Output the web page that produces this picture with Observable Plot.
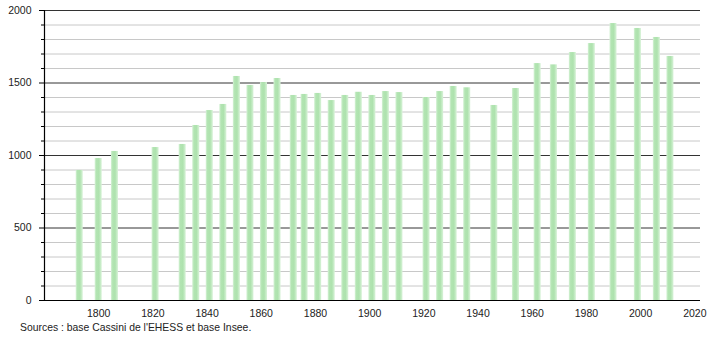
<!DOCTYPE html>
<html>
<head>
<meta charset="utf-8">
<script src="https://cdn.jsdelivr.net/npm/d3@7"></script>
<script src="https://cdn.jsdelivr.net/npm/@observablehq/plot@0.6"></script>
<style>
  html, body { margin: 0; padding: 0; background: #fff; }
  body { width: 710px; height: 340px; overflow: hidden; font-family: "Liberation Sans", Arial, sans-serif; }
  #caption { font-size: 10.4px; color: #222; padding-left: 20px; line-height: 14px; margin-top: 1px; }
</style>
</head>
<body>
<div id="chart"></div>
<div id="caption">Sources : base Cassini de l'EHESS et base Insee.</div>
<script>
const years = [1793, 1800, 1806, 1821, 1831, 1836, 1841, 1846, 1851, 1856, 1861, 1866, 1872, 1876, 1881, 1886, 1891, 1896, 1901, 1906, 1911, 1921, 1926, 1931, 1936, 1946, 1954, 1962, 1968, 1975, 1982, 1990, 1999, 2006, 2011];
const population = [897, 979, 1028, 1055, 1076, 1207, 1310, 1352, 1545, 1483, 1503, 1531, 1414, 1421, 1428, 1379, 1414, 1436, 1414, 1441, 1434, 1400, 1441, 1476, 1467, 1345, 1462, 1634, 1625, 1710, 1772, 1910, 1876, 1814, 1683];
const xTicks = [1800, 1820, 1840, 1860, 1880, 1900, 1920, 1940, 1960, 1980, 2000, 2020];
const yMajor = [0, 500, 1000, 1500, 2000];
const yMinor = d3.range(0, 2001, 100);

const data = years.map((y, i) => ({year: y, pop: population[i]}));
const halfBar = 1.3;

const chart = Plot.plot({
  width: 710,
  height: 320,
  marginLeft: 44,
  marginRight: 10,
  marginTop: 10,
  marginBottom: 20,
  style: {fontFamily: "'Liberation Sans', Arial, sans-serif", fontSize: "10.5px", color: "#222", background: "#fff"},
  x: {domain: [1780, 2022.1], label: null},
  y: {domain: [0, 2000], label: null},
  marks: [
    Plot.ruleY(yMinor.filter(v => v % 500 !== 0), {stroke: "#c8c8c8", strokeWidth: 1}),
    Plot.ruleY(yMajor.filter(v => v > 0), {stroke: "#333", strokeWidth: 1}),
    Plot.rectY(data, {x1: d => d.year - halfBar, x2: d => d.year + halfBar, y1: 0, y2: "pop", fill: "url(#barGrad)"}),
    Plot.ruleY([0], {stroke: "#000", strokeWidth: 1.2, insetLeft: -4}),
    Plot.ruleX([1780], {stroke: "#000", strokeWidth: 1.2}),
    Plot.axisY({ticks: yMinor.filter(v => v % 500 !== 0), tickSize: 3, tickFormat: null, text: null, stroke: "#000", label: null}),
    Plot.axisY({ticks: yMajor, tickSize: 5, tickPadding: 8, tickFormat: d => String(d), stroke: "#000", label: null}),
    Plot.axisX({ticks: xTicks, tickSize: 0, tickPadding: 9, tickFormat: d => String(d), label: null})
  ]
});

const ns = "http://www.w3.org/2000/svg";
const defs = document.createElementNS(ns, "defs");
const grad = document.createElementNS(ns, "linearGradient");
grad.setAttribute("id", "barGrad");
grad.setAttribute("x1", "0"); grad.setAttribute("x2", "1");
grad.setAttribute("y1", "0"); grad.setAttribute("y2", "0");
[["0%", "#d6f2d6"], ["25%", "#b2e4b2"], ["60%", "#aee2ae"], ["100%", "#d9f3d9"]].forEach(([o, c]) => {
  const s = document.createElementNS(ns, "stop");
  s.setAttribute("offset", o); s.setAttribute("stop-color", c);
  grad.appendChild(s);
});
defs.appendChild(grad);
chart.insertBefore(defs, chart.firstChild);
document.getElementById("chart").appendChild(chart);
</script>
</body>
</html>
